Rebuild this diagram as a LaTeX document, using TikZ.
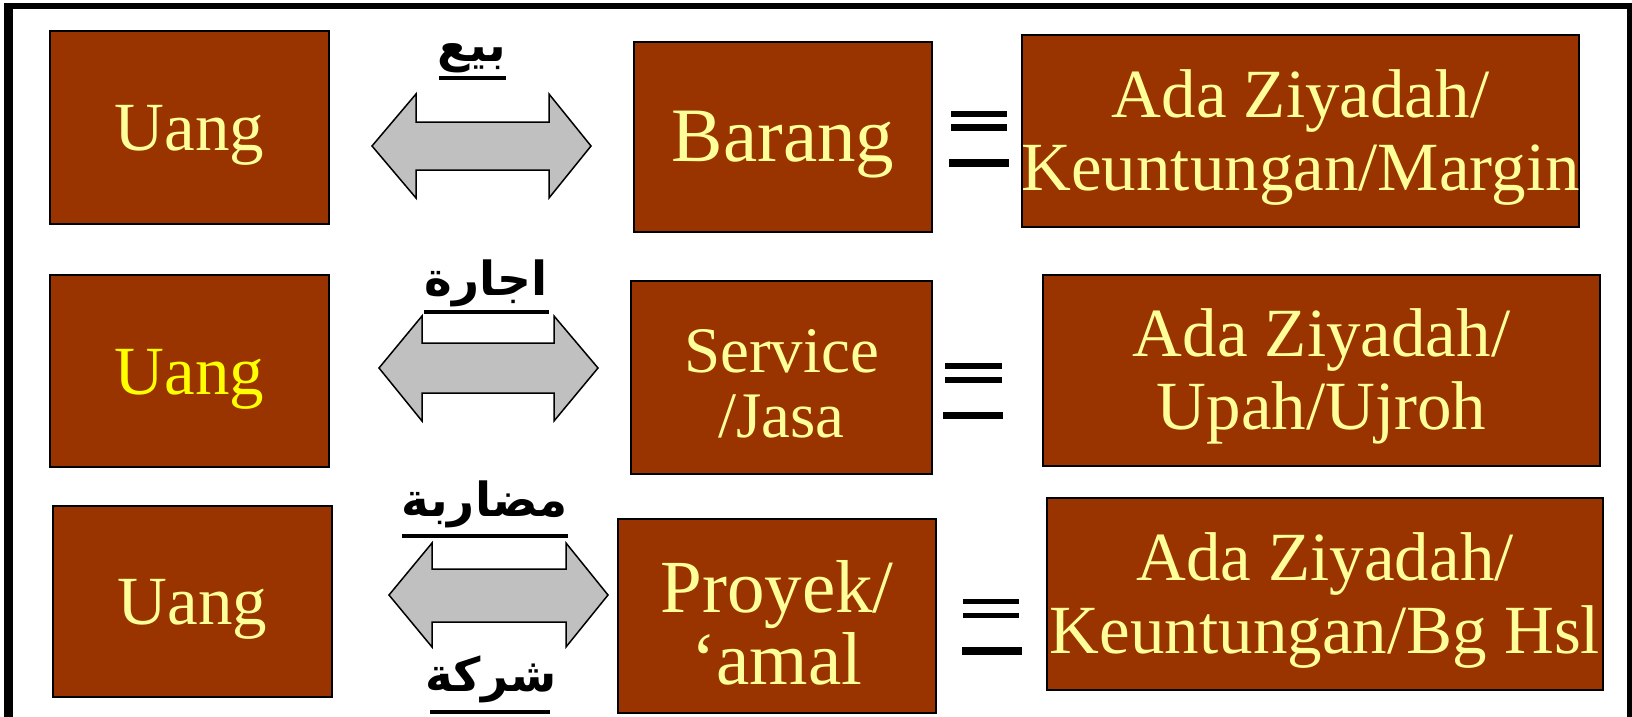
\documentclass[tikz,border=0pt]{standalone}
\usepackage{fontspec}
\setmainfont{Liberation Serif}
\newfontfamily\arabicfont[Script=Arabic]{DejaVu Sans}
\TeXXeTstate=1
\definecolor{boxbrown}{HTML}{993300}
\definecolor{txtyel}{HTML}{FFFF99}
\definecolor{txtbright}{HTML}{FFFF00}
\definecolor{arrgray}{HTML}{C0C0C0}
\begin{document}
\begin{tikzpicture}[x=1pt,y=-1pt,
  brownbox/.style={draw=black, line width=2pt, fill=boxbrown, inner sep=0pt},
  boxtext/.style={text=txtyel, align=center, inner sep=0pt},
  leftfont/.style={font=\fontsize{69}{74}\selectfont},
  midfont/.style={font=\fontsize{75}{72}\selectfont},
  rightfont/.style={font=\fontsize{69}{73}\selectfont},
  dblarrow/.style={draw=black, line width=1.5pt, fill=arrgray, line join=miter},
  arlabel/.style={font=\arabicfont\bfseries\fontsize{47}{47}\selectfont, inner sep=0pt},
  uline/.style={line width=4.5pt},
  eqbar/.style={fill=black},
  frameedge/.style={fill=black}
]
\useasboundingbox (0,0) rectangle (1632,717);
% outer frame (open at the bottom)
\fill[frameedge] (4,3) rectangle (13,717);
\fill[frameedge] (4,3) rectangle (1632,9);
\fill[frameedge] (1627,3) rectangle (1632,717);

% row 1
\node[brownbox, minimum width=279, minimum height=193] (u1) at (189.5,127.5) {};
\node[boxtext, leftfont] (u1t) at ([yshift=-8pt]u1.center) {Uang};
\node[brownbox, minimum width=298, minimum height=190] (b1) at (783,137) {};
\node[boxtext, font=\fontsize{77}{77}\selectfont] (b1t) at ([yshift=-8pt]b1.center) {Barang};
\node[brownbox, minimum width=557, minimum height=192] (r1) at (1300.5,131) {};
\node[boxtext, rightfont] (r1t) at ([yshift=-7pt]r1.center) {Ada Ziyadah/\\Keuntungan/Margin};
\draw[dblarrow] (372,146) -- (416,94) -- (416,122) -- (549,122) -- (549,94) -- (591,146)
  -- (549,198) -- (549,170) -- (416,170) -- (416,198) -- cycle;
\node[arlabel] (a1) at (472,58) {\beginR بيع\endR};
\draw[uline] (439,78) -- (506,78);
\fill[eqbar] (951,111) rectangle (1007,117);
\fill[eqbar] (951,124) rectangle (1007,131);
\fill[eqbar] (949,159) rectangle (1009,167);

% row 2
\node[brownbox, minimum width=279, minimum height=192] (u2) at (189.5,371) {};
\node[boxtext, leftfont, text=txtbright] (u2t) at ([yshift=-8pt]u2.center) {Uang};
\node[brownbox, minimum width=301, minimum height=193] (b2) at (781.5,377.5) {};
\node[boxtext, font=\fontsize{65}{65}\selectfont] (b2t) at ([yshift=-6pt]b2.center) {Service\\/Jasa};
\node[brownbox, minimum width=557, minimum height=191] (r2) at (1321.5,370.5) {};
\node[boxtext, rightfont] (r2t) at ([yshift=-6pt]r2.center) {Ada Ziyadah/\\Upah/Ujroh};
\draw[dblarrow] (379,368) -- (422,316) -- (422,343) -- (554,343) -- (554,316) -- (598,368)
  -- (554,421) -- (554,393) -- (422,393) -- (422,421) -- cycle;
\node[arlabel] (a2) at (486,283) {\beginR اجارة\endR};
\draw[uline] (424,312) -- (549,312);
\fill[eqbar] (945,363) rectangle (1002,369);
\fill[eqbar] (945,377) rectangle (1002,383);
\fill[eqbar] (943,412) rectangle (1003,419);

% row 3
\node[brownbox, minimum width=279, minimum height=191] (u3) at (192.5,601.5) {};
\node[boxtext, leftfont] (u3t) at ([yshift=-8pt]u3.center) {Uang};
\node[brownbox, minimum width=318, minimum height=194] (b3) at (777,616) {};
\node[boxtext, midfont] (b3t) at ([yshift=-7pt]b3.center) {Proyek/\\‘amal};
\node[brownbox, minimum width=556, minimum height=192] (r3) at (1325,594) {};
\node[boxtext, rightfont] (r3t) at ([yshift=-6pt]r3.center) {Ada Ziyadah/\\Keuntungan/Bg Hsl};
\draw[dblarrow] (389,595) -- (432,543) -- (432,569) -- (566,569) -- (566,543) -- (608,595)
  -- (566,647) -- (566,622) -- (432,622) -- (432,647) -- cycle;
\node[arlabel] (a3) at (485,504) {\beginR مضاربة\endR};
\draw[uline] (402,536) -- (568,536);
\node[arlabel] (a4) at (491,679) {\beginR شركة\endR};
\draw[uline] (430,712) -- (550,712);
\fill[eqbar] (963,599) rectangle (1019,604);
\fill[eqbar] (963,613) rectangle (1019,618);
\fill[eqbar] (962,647) rectangle (1022,655);
\end{tikzpicture}
\end{document}
